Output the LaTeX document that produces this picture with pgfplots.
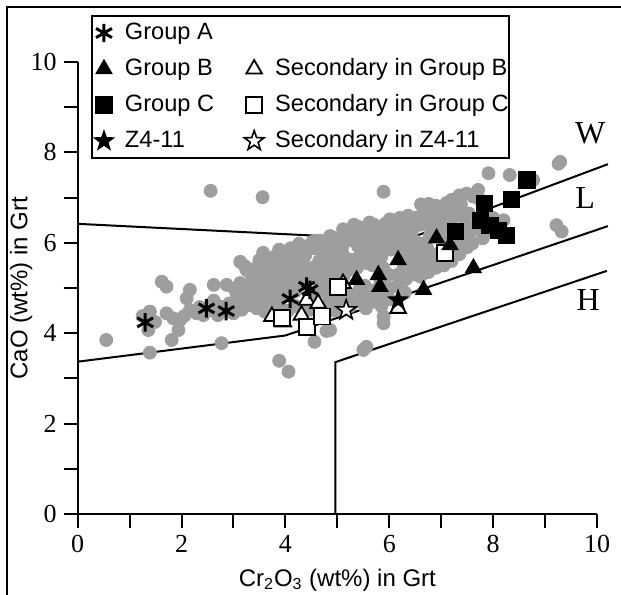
\documentclass[border=0pt]{standalone}
\usepackage{fontspec}
\setmainfont{Liberation Serif}
\newfontfamily\arial{Liberation Sans}
\usepackage{pgfplots}
\pgfplotsset{compat=1.18}
\definecolor{dotgray}{RGB}{158,158,158}
\pgfdeclareplotmark{fstar}{%
 \pgfpathmoveto{\pgfpointpolar{90}{\pgfplotmarksize}}%
 \pgfpathlineto{\pgfpointpolar{126}{0.4\pgfplotmarksize}}%
 \pgfpathlineto{\pgfpointpolar{162}{\pgfplotmarksize}}%
 \pgfpathlineto{\pgfpointpolar{198}{0.4\pgfplotmarksize}}%
 \pgfpathlineto{\pgfpointpolar{234}{\pgfplotmarksize}}%
 \pgfpathlineto{\pgfpointpolar{270}{0.4\pgfplotmarksize}}%
 \pgfpathlineto{\pgfpointpolar{306}{\pgfplotmarksize}}%
 \pgfpathlineto{\pgfpointpolar{342}{0.4\pgfplotmarksize}}%
 \pgfpathlineto{\pgfpointpolar{18}{\pgfplotmarksize}}%
 \pgfpathlineto{\pgfpointpolar{54}{0.4\pgfplotmarksize}}%
 \pgfpathclose
 \pgfusepathqfillstroke}
\pgfplotsset{
  grpA/.style={only marks, mark=asterisk, mark size=4.6pt, black, mark options={line width=1.5pt}},
  grpB/.style={only marks, mark=triangle*, mark size=4.5pt, black, mark options={fill=black, line width=0.6pt}},
  secB/.style={only marks, mark=triangle*, mark size=4.5pt, black, mark options={fill=white, draw=black, line width=0.9pt}},
  grpC/.style={only marks, mark=square*, mark size=4pt, black, mark options={fill=black, line width=0.6pt}},
  secC/.style={only marks, mark=square*, mark size=4pt, black, mark options={fill=white, draw=black, line width=0.9pt}},
  grpZ/.style={only marks, mark=fstar, mark size=5.2pt, black, mark options={fill=black, line width=0.5pt}},
  secZ/.style={only marks, mark=fstar, mark size=5.2pt, black, mark options={fill=white, draw=black, line width=0.8pt}},
}
\begin{document}
\begin{tikzpicture}
\begin{axis}[
  at={(0,0)}, anchor=south west,
  x=25.965pt, y=22.6pt,
  xmin=0, xmax=10, ymin=0, ymax=10,
  axis lines=left,
  axis line style={-, line width=1pt},
  clip=false,
  xtick={0,2,4,6,8,10}, ytick={0,2,4,6,8,10},
  minor xtick={1,3,5,7,9}, minor ytick={1,3,5,7,9},
  tick align=outside,
  major tick length=7pt, minor tick length=7pt,
  tick style={black, line width=1pt},
  minor tick style={black, line width=1pt},
  tick label style={font=\fontsize{13}{13}\selectfont},
  /pgf/number format/assume math mode=true,
  xlabel={Cr\textsubscript{2}O\textsubscript{3} (wt\%) in Grt},
  ylabel={CaO (wt\%) in Grt},
  label style={font=\arial\fontsize{12}{14}\selectfont},
  xlabel style={at={(axis description cs:0.5,-0.146)}, anchor=center},
  ylabel style={at={(axis description cs:-0.109,0.5)}, anchor=center},
  legend columns=2,
  legend cell align=left,
  legend image code/.code={\path (-5.5pt,0pt) (5.5pt,0pt); \draw[#1] plot coordinates {(0pt,0pt)};},
  legend style={at={(axis description cs:0.0256,1.104)}, anchor=north west,
    draw=black, line width=1pt, fill=white,
    font=\arial\fontsize{11.8}{13}\selectfont,
    inner xsep=0pt, inner ysep=3pt, row sep=7pt,
    nodes={inner xsep=0pt, inner ysep=0pt, text height=8.5pt, text depth=2.5pt},
    /tikz/every odd column/.append style={column sep=4.5pt},
    /tikz/every even column/.append style={column sep=14pt}},
]
% boundary lines
\addplot[black, line width=1pt, forget plot] coordinates {(0,6.42) (6.3,6.06) (10.21,7.74)};
\addplot[black, line width=1pt, forget plot] coordinates {(0,3.37) (4.0,3.95) (10.21,6.37)};
\addplot[black, line width=1pt, forget plot] coordinates {(4.96,0) (4.96,3.36) (10.19,5.38)};
% gray data
\addplot[only marks, mark=*, mark size=3.25pt, color=dotgray, forget plot] coordinates {
(0.55,3.85) (1.39,3.57) (1.36,4.07) (1.39,4.48) (1.49,4.25) (1.25,4.38) (1.62,5.14) (1.71,5.03)
(1.71,4.44) (1.84,4.33) (1.97,4.29) (1.94,4.07) (1.81,3.85) (2.16,4.96) (2.10,4.77) (2.16,4.51)
(2.29,4.44) (2.42,4.40) (2.05,4.38) (2.35,4.58) (2.62,5.07) (2.87,5.07) (2.77,3.78) (2.55,4.51)
(2.74,4.59) (2.62,4.72) (2.70,4.40) (2.92,4.66) (3.00,4.44) (3.06,4.88) (3.10,4.67) (3.02,4.98)
(3.16,4.52) (3.18,4.82) (2.56,7.15) (3.56,7.01) (3.88,3.39) (4.06,3.15) (4.56,3.81) (4.79,4.05)
(4.86,4.07) (5.89,4.37) (5.89,4.22) (5.50,3.63) (5.56,3.70) (5.89,7.13) (7.91,7.54) (8.32,7.50)
(8.77,7.39) (9.29,7.79) (9.26,7.75) (9.22,6.39) (9.32,6.25) (3.13,5.11) (3.25,5.40) (3.38,5.25)
(3.13,5.58)
(3.28,4.62) (3.31,4.85) (3.26,5.05) (3.33,5.32) (3.22,5.48)
(3.45,4.55) (3.48,4.78) (3.42,4.98) (3.47,5.18) (3.44,5.45) (3.50,5.62)
(3.60,4.48) (3.62,4.70) (3.58,4.92) (3.63,5.12) (3.60,5.35) (3.65,5.62) (3.57,5.78)
(3.75,4.62) (3.77,4.85) (3.73,5.05) (3.78,5.28) (3.74,5.48) (3.80,5.70)
(3.90,4.55) (3.92,4.78) (3.88,5.00) (3.93,5.20) (3.90,5.42) (3.95,5.62) (3.88,5.85)
(4.05,4.50) (4.07,5.00) (4.02,5.22) (4.08,5.45) (4.04,5.68) (4.10,5.88)
(4.20,4.60) (4.18,4.92) (4.22,5.15) (4.19,5.35) (4.23,5.58) (4.20,5.80) (4.26,5.98)
(4.35,4.55) (4.33,5.10) (4.37,5.30) (4.34,5.52) (4.38,5.72) (4.36,5.92)
(4.50,4.52) (4.52,4.82) (4.48,5.25) (4.53,5.45) (4.55,5.88) (4.52,6.02)
(4.65,4.45) (4.67,4.95) (4.63,5.18) (4.68,5.38) (4.65,5.60) (4.70,5.82) (4.66,6.05)
(4.80,4.60) (4.82,4.85) (4.78,5.10) (4.83,5.30) (4.80,5.55) (4.85,5.75) (4.80,5.98) (4.86,6.15)
(4.95,4.50) (4.97,4.75) (4.93,5.22) (4.98,5.45) (4.95,5.68) (5.00,5.90) (4.96,6.10)
(5.10,4.70) (5.12,5.25) (5.08,5.50) (5.13,5.70) (5.10,5.92) (5.15,6.12) (5.11,6.30)
(5.25,4.60) (5.27,4.85) (5.23,5.40) (5.28,5.62) (5.30,6.05) (5.26,6.28) (5.32,6.40)
(5.40,4.70) (5.42,4.95) (5.38,5.45) (5.43,5.70) (5.40,5.92) (5.45,6.15) (5.41,6.35)
(5.55,4.55) (5.57,4.80) (5.53,5.05) (5.58,5.55) (5.55,5.78) (5.60,6.00) (5.56,6.22) (5.62,6.45)
(5.70,4.70) (5.72,4.95) (5.68,5.50) (5.73,5.72) (5.70,5.95) (5.75,6.18) (5.71,6.40)
(5.85,4.60) (5.87,4.85) (5.83,5.15) (5.88,5.45) (5.85,5.70) (5.90,5.92) (5.86,6.15) (5.92,6.42)
(6.00,4.75) (6.02,5.00) (5.98,5.30) (6.03,5.85) (6.00,6.08) (6.05,6.30) (6.01,6.52)
(6.15,5.05) (6.17,5.30) (6.13,5.90) (6.18,6.12) (6.15,6.35) (6.20,6.55)
(6.30,4.90) (6.32,5.20) (6.28,5.45) (6.33,5.70) (6.30,5.95) (6.35,6.20) (6.31,6.42) (6.36,6.60)
(6.45,5.30) (6.47,5.55) (6.43,5.80) (6.48,6.05) (6.45,6.30) (6.50,6.55)
(6.60,5.25) (6.62,5.50) (6.58,5.75) (6.63,5.98) (6.60,6.40) (6.65,6.65) (6.61,6.85)
(6.75,5.35) (6.77,5.65) (6.73,5.88) (6.78,6.15) (6.75,6.40) (6.80,6.62) (6.76,6.86)
(6.90,5.45) (6.92,5.75) (6.88,6.30) (6.93,6.55) (6.90,6.82)
(7.05,5.50) (7.07,5.95) (7.03,6.20) (7.08,6.45) (7.05,6.70) (7.10,6.88)
(7.20,5.60) (7.22,5.85) (7.18,6.50) (7.23,6.75) (7.20,6.95)
(7.35,5.75) (7.37,6.00) (7.33,6.60) (7.38,6.85) (7.35,7.05)
(7.50,5.90) (7.52,6.15) (7.48,6.40) (7.53,6.65) (7.49,7.09) (7.62,7.02) (7.71,7.17)
(7.60,5.99) (7.65,6.30) (7.80,6.10) (7.94,6.28) (8.00,6.55) (8.20,6.50) (7.75,6.95)
};
% secondary (open)
\addplot[secB, forget plot] coordinates {(3.74,4.37) (3.96,4.25) (4.31,4.40) (4.41,4.73) (4.63,4.66) (5.11,5.10) (6.17,4.55)};
\addplot[secC, forget plot] coordinates {(3.93,4.33) (4.41,4.14) (4.70,4.37) (5.02,5.03) (7.07,5.77)};
\addplot[secZ, forget plot] coordinates {(5.17,4.51)};
% groups
\addplot[grpA, forget plot] coordinates {(1.30,4.24) (2.48,4.55) (2.86,4.49) (4.09,4.76) (4.41,5.03) (4.47,4.96)};
\addplot[grpB, forget plot] coordinates {(5.37,5.18) (5.79,5.29) (5.82,5.03) (6.17,5.62) (6.66,4.96) (6.91,6.10) (7.17,5.95) (7.62,5.44)};
\addplot[grpC, forget plot] coordinates {(7.27,6.25) (7.75,6.50) (7.84,6.87) (7.94,6.39) (8.10,6.28) (8.26,6.17) (8.36,6.95) (8.65,7.39)};
\addplot[grpZ, forget plot] coordinates {(6.17,4.73)};
% legend
\addlegendimage{grpA}\addlegendentry{Group A}
\addlegendimage{empty legend}\addlegendentry{}
\addlegendimage{grpB}\addlegendentry{Group B}
\addlegendimage{secB}\addlegendentry{Secondary in Group B}
\addlegendimage{grpC}\addlegendentry{Group C}
\addlegendimage{secC}\addlegendentry{Secondary in Group C}
\addlegendimage{grpZ}\addlegendentry{Z4-11}
\addlegendimage{secZ}\addlegendentry{Secondary in Z4-11}
% field labels
\node[font=\fontsize{16}{16}\selectfont] at (axis cs:9.87,8.43) {W};
\node[font=\fontsize{16}{16}\selectfont] at (axis cs:9.77,6.99) {L};
\node[font=\fontsize{16}{16}\selectfont] at (axis cs:9.83,4.73) {H};
\end{axis}
\draw[line width=1pt] ({-1.362*25.965pt},{-1.9*22.6pt}) -- ({-1.362*25.965pt},{11.217*22.6pt}) -- ({10.6*25.965pt},{11.217*22.6pt});
\pgfresetboundingbox
\path[use as bounding box] ({-1.496*25.965pt},{-1.770*22.6pt}) rectangle ({10.462*25.965pt},{11.372*22.6pt});
\end{tikzpicture}
\end{document}
